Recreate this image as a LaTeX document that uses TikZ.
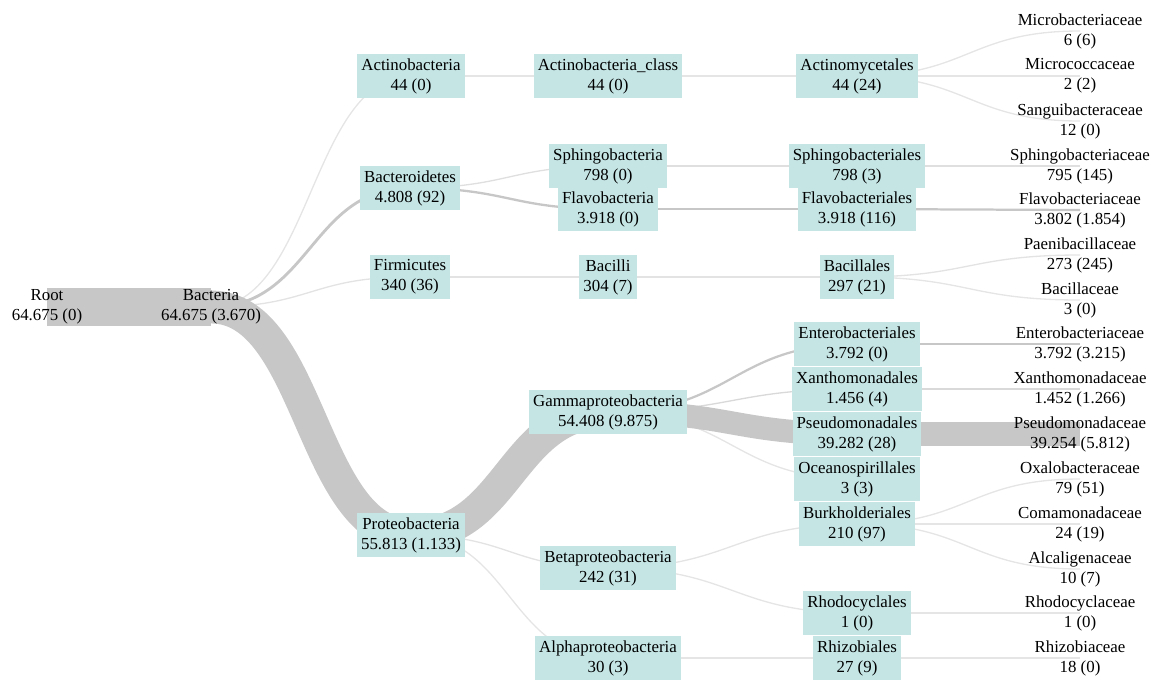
\documentclass[tikz,border=0pt]{standalone}
\usepackage{fontspec}
\setmainfont{Liberation Serif}
\usepackage{xcolor}
\usepackage{tikz}
\usetikzlibrary{calc,backgrounds}

\definecolor{taxfill}{HTML}{C5E5E5}

% link from parent to child, width and shade follow the read count (in thousands)
\newcommand{\lnk}[3]{%
  \pgfmathsetmacro{\lkw}{max(#3*0.335,0.75)}%
  \pgfmathsetmacro{\lkc}{min(22,10+#3*3.33)}%
  \draw[line width=\lkw pt, draw=black!\lkc]
    let \p1=(#1.center), \p2=(#2.center) in
    (\p1) .. controls ({(\x1+\x2)/2},\y1) and ({(\x1+\x2)/2},\y2) .. (\p2);}

\begin{document}
\begin{tikzpicture}[
  x=0.02cm, y=-0.02cm,
  font={\fontsize{9.6}{11.4}\selectfont},
  taxbox/.style={fill=taxfill, align=center, inner xsep=2.3pt, inner ysep=1pt,
                 minimum height=24.6pt},
  leaf/.style={align=center, inner sep=1pt}
]
\useasboundingbox (0,0) rectangle (1151,680);

% root and kingdom
\node (root)     [leaf] at (47,307)  {Root\\64.675 (0)};
\node (bacteria) [leaf] at (211,307) {Bacteria\\64.675 (3.670)};

% phyla
\node (actino)    [taxbox] at (411,76)  {Actinobacteria\\44 (0)};
\node (bacteroid) [taxbox] at (410,188) {Bacteroidetes\\4.808 (92)};
\node (firmi)     [taxbox] at (410,277) {Firmicutes\\340 (36)};
\node (proteo)    [taxbox] at (411,535) {Proteobacteria\\55.813 (1.133)};

% classes
\node (actcls)  [taxbox] at (608,76)  {Actinobacteria\_class\\44 (0)};
\node (sphingo) [taxbox] at (608,166) {Sphingobacteria\\798 (0)};
\node (flavo)   [taxbox] at (608,209) {Flavobacteria\\3.918 (0)};
\node (bacilli) [taxbox] at (608,277) {Bacilli\\304 (7)};
\node (gamma)   [taxbox] at (608,412) {Gammaproteobacteria\\54.408 (9.875)};
\node (beta)    [taxbox] at (608,568) {Betaproteobacteria\\242 (31)};
\node (alpha)   [taxbox] at (608,658) {Alphaproteobacteria\\30 (3)};

% orders
\node (actmyc)     [taxbox] at (857,76)  {Actinomycetales\\44 (24)};
\node (sphingales) [taxbox] at (857,166) {Sphingobacteriales\\798 (3)};
\node (flavales)   [taxbox] at (857,209) {Flavobacteriales\\3.918 (116)};
\node (bacillales) [taxbox] at (857,277) {Bacillales\\297 (21)};
\node (entero)     [taxbox] at (857,344) {Enterobacteriales\\3.792 (0)};
\node (xantho)     [taxbox] at (857,389) {Xanthomonadales\\1.456 (4)};
\node (pseudo)     [taxbox] at (857,434) {Pseudomonadales\\39.282 (28)};
\node (oceano)     [taxbox] at (857,479) {Oceanospirillales\\3 (3)};
\node (burk)       [taxbox] at (857,524) {Burkholderiales\\210 (97)};
\node (rhodo)      [taxbox] at (857,613) {Rhodocyclales\\1 (0)};
\node (rhizo)      [taxbox] at (857,658) {Rhizobiales\\27 (9)};

% families
\node (microb)      [leaf] at (1080,31)  {Microbacteriaceae\\6 (6)};
\node (micrococ)    [leaf] at (1080,76)  {Micrococcaceae\\2 (2)};
\node (sangui)      [leaf] at (1080,121) {Sanguibacteraceae\\12 (0)};
\node (sphingaceae) [leaf] at (1080,166) {Sphingobacteriaceae\\795 (145)};
\node (flavaceae)   [leaf] at (1080,210) {Flavobacteriaceae\\3.802 (1.854)};
\node (paeni)       [leaf] at (1080,255) {Paenibacillaceae\\273 (245)};
\node (bacillaceae) [leaf] at (1080,300) {Bacillaceae\\3 (0)};
\node (enteroceae)  [leaf] at (1080,344) {Enterobacteriaceae\\3.792 (3.215)};
\node (xanthoceae)  [leaf] at (1080,389) {Xanthomonadaceae\\1.452 (1.266)};
\node (pseudoceae)  [leaf] at (1080,434) {Pseudomonadaceae\\39.254 (5.812)};
\node (oxalo)       [leaf] at (1080,479) {Oxalobacteraceae\\79 (51)};
\node (comamo)      [leaf] at (1080,524) {Comamonadaceae\\24 (19)};
\node (alcali)      [leaf] at (1080,569) {Alcaligenaceae\\10 (7)};
\node (rhodoceae)   [leaf] at (1080,613) {Rhodocyclaceae\\1 (0)};
\node (rhizoceae)   [leaf] at (1080,658) {Rhizobiaceae\\18 (0)};

\begin{scope}[on background layer]
  % thin links first, the wide bands over them
  \foreach \a/\b/\n in {bacteria/actino/0.044, bacteria/bacteroid/4.808,
      bacteria/firmi/0.340,
      actino/actcls/0.044, bacteroid/sphingo/0.798, bacteroid/flavo/3.918,
      firmi/bacilli/0.304, proteo/beta/0.242, proteo/alpha/0.030,
      actcls/actmyc/0.044, sphingo/sphingales/0.798, flavo/flavales/3.918,
      bacilli/bacillales/0.297, gamma/entero/3.792, gamma/xantho/1.456,
      gamma/oceano/0.003, beta/burk/0.210,
      beta/rhodo/0.001, alpha/rhizo/0.027,
      actmyc/microb/0.006, actmyc/micrococ/0.002, actmyc/sangui/0.012,
      sphingales/sphingaceae/0.795, flavales/flavaceae/3.802,
      bacillales/paeni/0.273, bacillales/bacillaceae/0.003,
      entero/enteroceae/3.792, xantho/xanthoceae/1.452,
      burk/oxalo/0.079, burk/comamo/0.024, burk/alcali/0.010,
      rhodo/rhodoceae/0.001, rhizo/rhizoceae/0.018,
      root/bacteria/64.675, bacteria/proteo/55.813, proteo/gamma/54.408,
      gamma/pseudo/39.282, pseudo/pseudoceae/39.254}
    {\lnk{\a}{\b}{\n}}
\end{scope}

\end{tikzpicture}
\end{document}
